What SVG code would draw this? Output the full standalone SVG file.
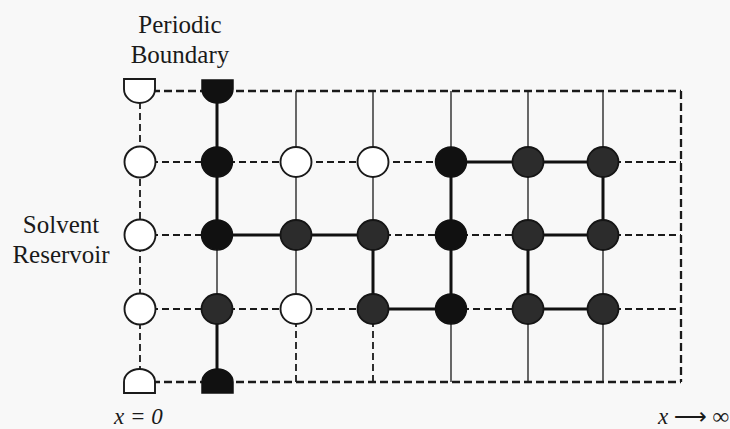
<svg xmlns="http://www.w3.org/2000/svg" width="730" height="429" viewBox="0 0 730 429">
<style>
.bg{fill:#f8f8f8}
.txt{font-family:"Liberation Serif","DejaVu Serif",serif;font-size:25px;fill:#1a1a1a}
.math{font-family:"Liberation Serif","DejaVu Serif",serif;font-size:23px;font-style:italic;fill:#1a1a1a}
.arr{font-family:"DejaVu Sans",sans-serif;font-style:normal}
.d{stroke:#1a1a1a;stroke-width:1.8;stroke-dasharray:7 4;fill:none}
.db{stroke:#1a1a1a;stroke-width:2.3;stroke-dasharray:8 4;fill:none}
.t{stroke:#1a1a1a;stroke-width:1.3;fill:none}
.k{stroke:#111;stroke-width:3;fill:none}
.w{fill:#ffffff;stroke:#1a1a1a;stroke-width:1.9}
.b{fill:#111;stroke:#111;stroke-width:1.5}
.g{fill:#2c2c2c;stroke:#151515;stroke-width:1.8}
</style>
<rect class="bg" x="0" y="0" width="730" height="429"/>
<g id="connectors">
  <line class="db" x1="140" y1="91" x2="681" y2="91"/>
  <line class="db" x1="140" y1="382" x2="681" y2="382"/>
  <line class="db" x1="681" y1="91" x2="681" y2="382"/>
  <line class="d" x1="140" y1="91" x2="140" y2="382"/>
  <line class="d" x1="140" y1="162" x2="451" y2="162"/>
  <line class="k" x1="451" y1="162" x2="603" y2="162"/>
  <line class="d" x1="603" y1="162" x2="681" y2="162"/>
  <line class="d" x1="140" y1="235" x2="217" y2="235"/>
  <line class="k" x1="217" y1="235" x2="373" y2="235"/>
  <line class="d" x1="373" y1="235" x2="528" y2="235"/>
  <line class="k" x1="528" y1="235" x2="603" y2="235"/>
  <line class="d" x1="603" y1="235" x2="681" y2="235"/>
  <line class="d" x1="140" y1="309" x2="373" y2="309"/>
  <line class="k" x1="373" y1="309" x2="451" y2="309"/>
  <line class="d" x1="451" y1="309" x2="528" y2="309"/>
  <line class="k" x1="528" y1="309" x2="603" y2="309"/>
  <line class="d" x1="603" y1="309" x2="681" y2="309"/>
  <line class="k" x1="217" y1="91" x2="217" y2="235"/>
  <line class="t" x1="217" y1="235" x2="217" y2="309"/>
  <line class="k" x1="217" y1="309" x2="217" y2="382"/>
  <line class="t" x1="296" y1="91" x2="296" y2="309"/>
  <line class="d" x1="296" y1="309" x2="296" y2="382"/>
  <line class="t" x1="373" y1="91" x2="373" y2="235"/>
  <line class="k" x1="373" y1="235" x2="373" y2="309"/>
  <line class="d" x1="373" y1="309" x2="373" y2="382"/>
  <line class="t" x1="451" y1="91" x2="451" y2="162"/>
  <line class="k" x1="451" y1="162" x2="451" y2="309"/>
  <line class="t" x1="451" y1="309" x2="451" y2="382"/>
  <line class="t" x1="528" y1="91" x2="528" y2="235"/>
  <line class="k" x1="528" y1="235" x2="528" y2="309"/>
  <line class="t" x1="528" y1="309" x2="528" y2="382"/>
  <line class="t" x1="603" y1="91" x2="603" y2="162"/>
  <line class="k" x1="603" y1="162" x2="603" y2="235"/>
  <line class="t" x1="603" y1="235" x2="603" y2="382"/>
</g>
<g id="res-top"><path class="w" d="M124,79 H155 V89 A15.5,14 0 0 1 124,89 Z"/></g>
<g id="res-1"><circle class="w" cx="140" cy="162" r="15.5"/></g>
<g id="res-2"><circle class="w" cx="140" cy="235" r="15.5"/></g>
<g id="res-3"><circle class="w" cx="140" cy="309" r="15.5"/></g>
<g id="res-bot"><path class="w" d="M124,393 V382 A15.5,13 0 0 1 155,382 V393 Z"/></g>
<g id="c1-top"><path class="b" d="M202,80 H233 V89 A15.5,14 0 0 1 202,89 Z"/></g>
<g id="c1-bot"><path class="b" d="M202,393 V382 A15.5,13 0 0 1 233,382 V393 Z"/></g>
<g id="n-1-1"><ellipse class="b" cx="217" cy="162" rx="15.5" ry="15"/></g>
<g id="n-1-2"><ellipse class="w" cx="296" cy="162" rx="15.5" ry="15"/></g>
<g id="n-1-3"><ellipse class="w" cx="373" cy="162" rx="15.5" ry="15"/></g>
<g id="n-1-4"><ellipse class="b" cx="451" cy="162" rx="15.5" ry="15"/></g>
<g id="n-1-5"><ellipse class="g" cx="528" cy="162" rx="15.5" ry="15"/></g>
<g id="n-1-6"><ellipse class="g" cx="603" cy="162" rx="15.5" ry="15"/></g>
<g id="n-2-1"><ellipse class="b" cx="217" cy="235" rx="15.5" ry="15"/></g>
<g id="n-2-2"><ellipse class="g" cx="296" cy="235" rx="15.5" ry="15"/></g>
<g id="n-2-3"><ellipse class="g" cx="373" cy="235" rx="15.5" ry="15"/></g>
<g id="n-2-4"><ellipse class="b" cx="451" cy="235" rx="15.5" ry="15"/></g>
<g id="n-2-5"><ellipse class="g" cx="528" cy="235" rx="15.5" ry="15"/></g>
<g id="n-2-6"><ellipse class="g" cx="603" cy="235" rx="15.5" ry="15"/></g>
<g id="n-3-1"><ellipse class="g" cx="217" cy="309" rx="15.5" ry="15"/></g>
<g id="n-3-2"><ellipse class="w" cx="296" cy="309" rx="15.5" ry="15"/></g>
<g id="n-3-3"><ellipse class="g" cx="373" cy="309" rx="15.5" ry="15"/></g>
<g id="n-3-4"><ellipse class="b" cx="451" cy="309" rx="15.5" ry="15"/></g>
<g id="n-3-5"><ellipse class="g" cx="528" cy="309" rx="15.5" ry="15"/></g>
<g id="n-3-6"><ellipse class="g" cx="603" cy="309" rx="15.5" ry="15"/></g>
<g id="labels">
  <text class="txt" x="180" y="33" text-anchor="middle">Periodic</text>
  <text class="txt" x="180" y="63" text-anchor="middle">Boundary</text>
  <text class="txt" x="61" y="233" text-anchor="middle">Solvent</text>
  <text class="txt" x="61" y="263" text-anchor="middle">Reservoir</text>
  <text class="math" x="114" y="424">x = 0</text>
  <text class="math" x="729" y="424" text-anchor="end">x <tspan class="arr">⟶</tspan> ∞</text>
</g>
</svg>
